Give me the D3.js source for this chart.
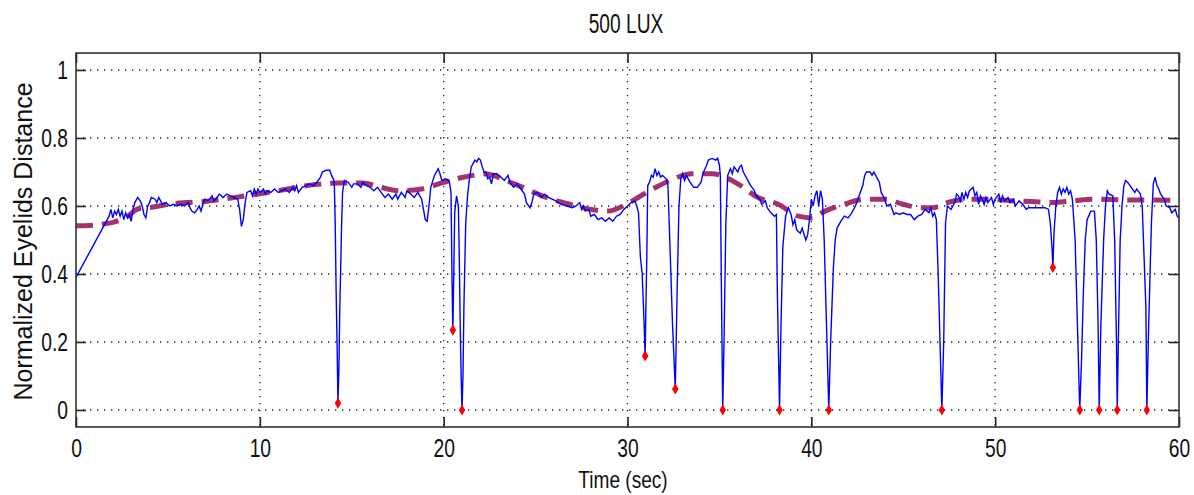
<!doctype html>
<html>
<head>
<meta charset="utf-8">
<script src="https://cdn.jsdelivr.net/npm/d3@7"></script>
<style>
html, body { margin: 0; background: #fff; overflow: hidden; }
text { font-family: "Liberation Sans", Arial, sans-serif; fill: #111; }
</style>
</head>
<body>
<script>
// eyelid signal (time in sec, normalized distance)
var eyeT = [0,1.8,1.9,2,2.1,2.2,2.3,2.4,2.5,2.6,2.7,2.8,2.9,3,3.1,3.2,3.35,3.5,3.6,3.7,3.8,3.9,4,4.1,4.3,4.4,4.5,4.6,4.7,4.9,5.1,5.3,5.5,5.7,5.9,6.1,6.2,6.3,6.45,6.6,6.7,6.8,6.9,7,7.2,7.4,7.5,7.6,7.8,8,8.2,8.4,8.6,8.8,8.9,9,9.1,9.2,9.3,9.5,9.6,9.7,9.8,9.9,10,10.2,10.3,10.4,10.6,10.8,11,11.2,11.4,11.6,11.8,11.9,12,12.1,12.3,12.5,12.7,12.9,13.1,13.3,13.4,13.6,13.8,13.9,14,14.05,14.1,14.15,14.2,14.25,14.3,14.35,14.4,14.45,14.5,14.6,14.8,15,15.1,15.3,15.5,15.6,15.8,16,16.2,16.4,16.6,16.8,17,17.2,17.4,17.5,17.7,17.9,18,18.2,18.4,18.6,18.8,18.9,19,19.1,19.2,19.3,19.5,19.7,19.8,19.9,20.1,20.3,20.4,20.45,20.5,20.55,20.6,20.7,20.8,20.85,20.9,20.95,21,21.05,21.1,21.2,21.3,21.4,21.5,21.7,21.8,21.9,22,22.1,22.2,22.3,22.4,22.5,22.6,22.7,22.9,23.1,23.3,23.5,23.6,23.8,24,24.2,24.4,24.5,24.7,24.8,24.9,25.1,25.3,25.5,25.7,25.9,26.1,26.4,26.7,27,27.2,27.4,27.5,27.6,27.7,27.9,28,28.2,28.4,28.6,28.8,29,29.2,29.4,29.6,29.8,30,30.2,30.4,30.5,30.6,30.7,30.8,30.9,30.96,31,31.05,31.1,31.2,31.3,31.4,31.5,31.6,31.7,31.8,31.9,32.1,32.2,32.3,32.45,32.6,32.7,32.8,32.9,33,33.1,33.2,33.4,33.6,33.8,34,34.1,34.3,34.4,34.6,34.8,34.9,35,35.05,35.1,35.18,35.25,35.35,35.45,35.6,35.7,35.8,36,36.1,36.2,36.3,36.5,36.7,36.9,37,37.2,37.3,37.5,37.6,37.8,38,38.1,38.15,38.27,38.35,38.45,38.6,38.75,38.9,39,39.1,39.2,39.4,39.5,39.7,39.8,39.9,40,40.1,40.2,40.3,40.4,40.5,40.6,40.7,40.85,40.95,41.05,41.2,41.3,41.4,41.6,41.8,42,42.2,42.4,42.6,42.8,42.9,43,43.2,43.3,43.4,43.6,43.7,43.8,44,44.1,44.3,44.4,44.5,44.6,44.8,45,45.2,45.4,45.6,45.8,46,46.2,46.4,46.5,46.6,46.7,46.8,46.9,47,47.1,47.2,47.3,47.4,47.6,47.8,47.9,48,48.1,48.2,48.3,48.4,48.5,48.6,48.8,48.9,49,49.1,49.2,49.3,49.4,49.5,49.6,49.8,49.9,50,50.2,50.3,50.4,50.5,50.7,50.8,51,51.1,51.3,51.5,51.7,51.8,52,52.4,52.7,52.9,53,53.1,53.14,53.2,53.3,53.4,53.5,53.6,53.7,53.8,53.9,54,54.1,54.2,54.35,54.5,54.6,54.7,54.8,54.9,55,55.2,55.4,55.5,55.6,55.66,55.75,55.9,56,56.1,56.2,56.4,56.5,56.6,56.64,56.7,56.8,56.9,57,57.1,57.2,57.4,57.6,57.7,57.9,58,58.1,58.2,58.25,58.35,58.5,58.6,58.7,58.8,58.9,59,59.2,59.3,59.5,59.6,59.8,59.9,60];
var eyeV = [0.39,0.57,0.59,0.565,0.585,0.575,0.59,0.57,0.585,0.56,0.58,0.565,0.575,0.555,0.59,0.61,0.625,0.615,0.6,0.575,0.565,0.6,0.61,0.625,0.62,0.61,0.625,0.615,0.605,0.61,0.6,0.605,0.6,0.605,0.6,0.61,0.595,0.585,0.58,0.59,0.6,0.585,0.605,0.62,0.615,0.63,0.615,0.62,0.635,0.625,0.635,0.63,0.625,0.62,0.59,0.54,0.56,0.61,0.64,0.645,0.63,0.65,0.635,0.65,0.64,0.65,0.635,0.645,0.64,0.65,0.64,0.645,0.65,0.64,0.655,0.645,0.66,0.64,0.655,0.66,0.665,0.66,0.67,0.685,0.7,0.705,0.705,0.69,0.68,0.67,0.55,0.35,0.2,0.02,0.12,0.3,0.42,0.55,0.64,0.675,0.67,0.655,0.665,0.665,0.655,0.67,0.66,0.655,0.645,0.655,0.64,0.625,0.635,0.62,0.635,0.62,0.64,0.625,0.645,0.635,0.625,0.64,0.62,0.59,0.56,0.555,0.6,0.655,0.69,0.71,0.695,0.675,0.68,0.675,0.64,0.4,0.235,0.4,0.58,0.63,0.6,0.45,0.25,0.1,0,0.1,0.3,0.55,0.63,0.68,0.715,0.735,0.73,0.74,0.735,0.715,0.7,0.7,0.68,0.685,0.665,0.695,0.695,0.685,0.675,0.69,0.67,0.655,0.665,0.65,0.635,0.61,0.595,0.61,0.635,0.64,0.625,0.635,0.625,0.62,0.615,0.605,0.6,0.595,0.6,0.61,0.59,0.6,0.585,0.59,0.57,0.575,0.56,0.565,0.555,0.565,0.555,0.57,0.575,0.59,0.6,0.61,0.615,0.6,0.58,0.45,0.4,0.26,0.159,0.3,0.45,0.66,0.67,0.69,0.685,0.71,0.69,0.7,0.685,0.69,0.68,0.66,0.5,0.25,0.062,0.35,0.6,0.68,0.695,0.675,0.69,0.67,0.655,0.655,0.67,0.695,0.72,0.735,0.74,0.735,0.74,0.72,0.69,0.4,0,0.2,0.55,0.69,0.71,0.695,0.715,0.7,0.715,0.72,0.7,0.68,0.66,0.645,0.63,0.62,0.605,0.615,0.595,0.58,0.57,0.575,0.35,0,0.25,0.48,0.57,0.595,0.575,0.545,0.56,0.53,0.52,0.535,0.5,0.515,0.56,0.62,0.6,0.63,0.645,0.6,0.645,0.62,0.5,0.2,0,0.2,0.42,0.5,0.535,0.555,0.57,0.565,0.58,0.6,0.63,0.66,0.69,0.7,0.7,0.69,0.7,0.68,0.67,0.64,0.62,0.6,0.605,0.59,0.575,0.58,0.575,0.58,0.575,0.575,0.56,0.57,0.575,0.59,0.58,0.595,0.57,0.58,0.56,0.4,0.2,0,0.2,0.55,0.6,0.59,0.61,0.635,0.63,0.615,0.64,0.62,0.64,0.625,0.645,0.655,0.63,0.64,0.605,0.63,0.62,0.605,0.625,0.61,0.625,0.605,0.62,0.635,0.61,0.63,0.615,0.625,0.61,0.62,0.6,0.615,0.605,0.59,0.595,0.595,0.595,0.595,0.59,0.55,0.47,0.419,0.52,0.6,0.64,0.655,0.635,0.65,0.64,0.655,0.635,0.645,0.62,0.5,0.2,0,0.15,0.35,0.5,0.56,0.585,0.585,0.5,0.25,0,0.25,0.5,0.6,0.645,0.635,0.63,0.5,0.2,0,0.2,0.5,0.6,0.66,0.675,0.67,0.655,0.64,0.65,0.635,0.6,0.45,0.3,0,0.25,0.55,0.665,0.685,0.66,0.65,0.635,0.62,0.6,0.595,0.58,0.59,0.57,0.565];

// smoothed trend (dashed)
var trendT = [0,0.5,1.5,2,2.7,3.4,4.2,5,6,7,8,9,10,11,12,13,14.3,15.6,16.5,17.6,18.8,19.9,21.2,22.3,23.4,24.5,25.6,27,28,28.9,30.1,31.2,32.3,33.5,34.6,36,37.1,38.2,39.3,40,40.75,41.8,42.9,44,45,46,46.6,47.4,48.5,49.6,51,52,53.1,54.2,55.3,57,60];
var trendV = [0.542,0.542,0.547,0.552,0.566,0.592,0.597,0.605,0.61,0.613,0.62,0.628,0.636,0.645,0.655,0.663,0.668,0.668,0.656,0.645,0.65,0.668,0.686,0.694,0.675,0.65,0.625,0.603,0.59,0.585,0.61,0.645,0.675,0.695,0.695,0.665,0.625,0.605,0.57,0.565,0.585,0.605,0.62,0.62,0.605,0.595,0.595,0.61,0.62,0.62,0.615,0.613,0.61,0.615,0.62,0.618,0.617];

// detected blinks (red markers)
var blinkT = [14.25,20.5,21.0,30.96,32.6,35.18,38.27,40.95,47.1,53.14,54.6,55.66,56.64,58.25];
var blinkV = [0.02,0.235,0,0.159,0.062,0,0,0,0,0.419,0,0,0,0];

var xTicks = [0,10,20,30,40,50,60];
var yTicks = [0,0.2,0.4,0.6,0.8,1];

var W = 1194, H = 495;
var margin = {top: 53, right: 15, bottom: 68, left: 76};
var w = W - margin.left - margin.right,
    h = H - margin.top - margin.bottom;
var sx = 0.77; // narrow the tick/title glyphs like the original bitmap font

var svg = d3.select("body").append("svg")
    .attr("width", W)
    .attr("height", H);

var g = svg.append("g").attr("transform", "translate(" + margin.left + "," + margin.top + ")");

var x = d3.scaleLinear().domain([0, 60]).range([0, w]);
var y = d3.scaleLinear().domain([-0.05, 1.05]).range([h, 0]);

// grid
g.selectAll(".gx").data(xTicks.slice(1, -1)).enter().append("line")
    .attr("x1", function(d){return x(d)}).attr("x2", function(d){return x(d)})
    .attr("y1", 0).attr("y2", h)
    .attr("stroke", "#222").attr("stroke-width", 1.3).attr("stroke-dasharray", "1.3,5.7");
g.selectAll(".gy").data(yTicks).enter().append("line")
    .attr("x1", 0).attr("x2", w)
    .attr("y1", function(d){return y(d)}).attr("y2", function(d){return y(d)})
    .attr("stroke", "#222").attr("stroke-width", 1.3).attr("stroke-dasharray", "1.3,5.7");

// axes (ticks inward on all sides)
var fmt = function(d){ return d3.format("")(+d.toFixed(1)); };
var ax = function(a){
  a.selectAll("path").remove();
  a.selectAll("line").attr("stroke", "#222").attr("stroke-width", 1.6);
  a.selectAll("text").style("font-size", "25px").attr("fill", "#111")
    .attr("x", function(){ return (+d3.select(this).attr("x") || 0) / sx; })
    .attr("transform", "scale(" + sx + ",1)");
};
g.append("g").attr("transform", "translate(0," + h + ")")
  .call(d3.axisBottom(x).tickValues(xTicks).tickSizeInner(-10).tickSizeOuter(0).tickPadding(12).tickFormat(fmt))
  .call(ax);
g.append("g").call(d3.axisTop(x).tickValues(xTicks).tickSizeInner(-10).tickSizeOuter(0).tickFormat(""))
  .call(ax);
g.append("g")
  .call(d3.axisLeft(y).tickValues(yTicks).tickSizeInner(-10).tickSizeOuter(0).tickPadding(8).tickFormat(fmt))
  .call(ax);
g.append("g").attr("transform", "translate(" + w + ",0)")
  .call(d3.axisRight(y).tickValues(yTicks).tickSizeInner(-10).tickSizeOuter(0).tickFormat(""))
  .call(ax);

var plot = g.append("g");

// trend line
var trend = trendT.map(function(t, i){ return [t, trendV[i]]; });
plot.append("path").datum(trend)
    .attr("fill", "none").attr("stroke", "#a3326f").attr("stroke-width", 5)
    .attr("stroke-dasharray", "17,9")
    .attr("d", d3.line().curve(d3.curveMonotoneX).x(function(d){return x(d[0])}).y(function(d){return y(d[1])}));

// signal
var eye = eyeT.map(function(t, i){ return [t, eyeV[i]]; });
plot.append("path").datum(eye)
    .attr("fill", "none").attr("stroke", "#0000ff").attr("stroke-width", 1.4)
    .attr("d", d3.line().x(function(d){return x(d[0])}).y(function(d){return y(d[1])}));

// blink markers
var blinks = blinkT.map(function(t, i){ return [t, blinkV[i]]; });
plot.selectAll(".blink").data(blinks).enter().append("path")
    .attr("transform", function(d){ return "translate(" + x(d[0]) + "," + y(d[1]) + ")"; })
    .attr("d", d3.symbol().type(d3.symbolDiamond).size(36))
    .attr("fill", "#ff0000");

// box
g.append("rect").attr("width", w).attr("height", h)
    .attr("fill", "none").attr("stroke", "#333").attr("stroke-width", 1.6);

// labels
svg.append("text").attr("transform", "translate(626,33) scale(0.71,1)").attr("text-anchor", "middle")
    .style("font-size", "27px").text("500 LUX");
svg.append("text").attr("transform", "translate(623,488) scale(0.83,1)").attr("text-anchor", "middle")
    .style("font-size", "23px").text("Time (sec)");
svg.append("text").attr("transform", "translate(32,241.5) rotate(-90)")
    .attr("text-anchor", "middle").style("font-size", "25px").text("Normalized Eyelids Distance");
</script>
</body>
</html>
